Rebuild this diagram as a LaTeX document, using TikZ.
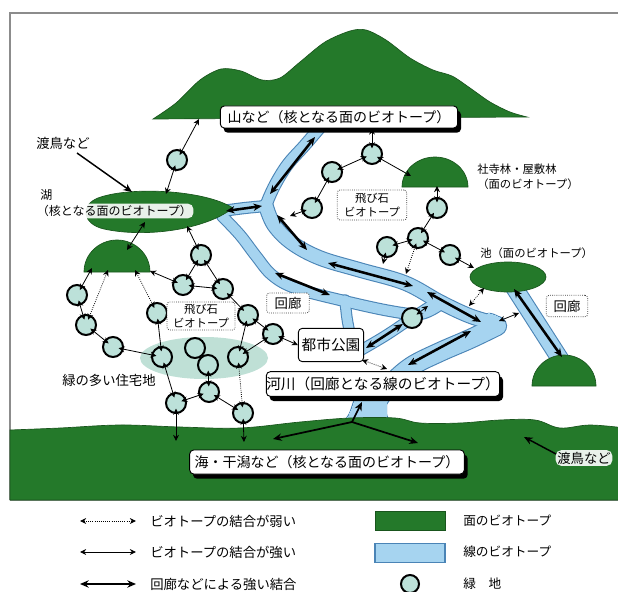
\documentclass[tikz,border=0pt]{standalone}
\usepackage{fontspec}
\setmainfont{Noto Sans CJK JP}
\usetikzlibrary{arrows.meta,calc,shadows}

\definecolor{coreGreen}{HTML}{24792A}
\definecolor{waterFill}{HTML}{A6D4F0}
\definecolor{waterEdge}{HTML}{4A84B6}
\definecolor{greenSpace}{HTML}{BCE1D9}
\definecolor{suburbFill}{HTML}{BFE0D6}
\definecolor{frameGrey}{HTML}{8C8C8C}

\newcommand{\setfs}[2]{\fontsize{#1pt}{#2pt}\selectfont}

\tikzset{
  gspace/.style={circle, draw=black, line width=1.5pt, fill=greenSpace, minimum size=15pt, inner sep=0pt},
  lnWeak/.style={densely dotted, line width=0.6pt, {Stealth[length=4.6pt,width=4.4pt]}-{Stealth[length=4.6pt,width=4.4pt]}},
  lnStrong/.style={line width=0.6pt, {Stealth[length=4.6pt,width=4.4pt]}-{Stealth[length=4.6pt,width=4.4pt]}},
  lnCorr/.style={line width=1.9pt, {Stealth[length=6.5pt,width=5.5pt]}-{Stealth[length=6.5pt,width=5.5pt]}},
  lnOne/.style={line width=1.3pt, -{Stealth[length=6.5pt,width=5.5pt]}},
  inS/.style={shorten <=-4pt},
  inE/.style={shorten >=-4pt},
  inB/.style={inS, inE},
  bigLabel/.style={draw=black, line width=0.7pt, fill=white, rounded corners=3pt, inner sep=0pt,
     general shadow={fill=black, shadow xshift=2.5pt, shadow yshift=-3.5pt}},
  stoneBox/.style={draw=black!75, densely dotted, line width=0.6pt, fill=white, rounded corners=2pt,
     align=center, inner sep=0pt},
  greenShape/.style={fill=coreGreen, draw=coreGreen!70!black, line width=0.5pt},
  note/.style={inner sep=0pt, anchor=west},
  onGreen/.style={fill=white, fill opacity=0.9, text opacity=1, rounded corners=4pt, inner sep=1.2pt},
}

\begin{document}
\begin{tikzpicture}[x=0.75pt, y=-0.75pt]
\useasboundingbox (0,0) rectangle (618,592);
\clip (0,0) rectangle (618,592);
\fill[white] (0,0) rectangle (618,592);

% frame
\draw[frameGrey, line width=0.9pt] (10,500) -- (10,13) -- (625,13);
\draw[frameGrey, line width=0.9pt] (10,500) -- (625,500);

% rivers and corridors: outline layer first, then the water layer
\foreach \extra/\col in {1.6/waterEdge, 0/waterFill} {
  \begin{scope}[draw=\col, line cap=round, line join=round]
    % channel from the mountain
    \draw[line width=8pt+\extra pt] plot[smooth, tension=0.6] coordinates
      {(323,124) (305,145) (288,164) (276,183) (268,200) (266,207)};
    % channel into the lake
    \draw[line width=7.5pt+\extra pt] plot[smooth, tension=0.6] coordinates
      {(222,211) (245,208) (266,206)};
    % main river, upper reach
    \draw[line width=10pt+\extra pt] plot[smooth, tension=0.6] coordinates
      {(266,206) (274,225) (292,243) (320,258) (360,270) (405,283) (440,302) (470,316) (497,324)};
    % main river, lower reach
    \draw[line width=13.5pt+\extra pt] plot[smooth, tension=0.6] coordinates
      {(497,326) (470,339) (440,352) (412,366) (392,383) (378,400) (370,418)};
    % corridor from the lake
    \draw[line width=7.5pt+\extra pt] plot[smooth, tension=0.6] coordinates
      {(222,216) (240,235) (256,256) (272,275) (295,288) (340,300) (390,311) (420,314) (438,306)};
    % branch to the park
    \draw[line width=7pt+\extra pt] plot[smooth, tension=0.6] coordinates
      {(345,300) (347,318) (350,334)};
    \draw[line width=7pt+\extra pt] plot[smooth, tension=0.6] coordinates
      {(356,353) (385,336) (412,318) (432,305)};
    % bend of the river
    \filldraw[fill=\col, line width=\extra pt] plot[smooth cycle, tension=0.7] coordinates
      {(486,315) (500,318) (505,326) (499,334) (486,335)};
    % mouth
    \filldraw[fill=\col, line width=\extra pt, rounded corners=2pt]
      (356,396) -- (386,396) -- (386,416) -- (398,434) -- (336,434) -- (350,414) -- cycle;
    % corridor between the pond and the wood
    \draw[line width=12pt+\extra pt] (512,284) -- (562,362);
  \end{scope}
}

% sea and tidal flats
\fill[greenShape] (10,500) -- (10,430) -- plot[smooth, tension=0.6] coordinates
  {(10,430) (60,428) (120,425) (180,427) (240,428) (300,422) (350,418) (395,418) (420,423)
   (460,423) (500,420) (535,420) (560,428) (590,425) (625,428)} -- (625,500) -- cycle;

% mountain
\fill[greenShape] plot[smooth, tension=0.5] coordinates
  {(153,119) (176,103) (200,80) (221,69) (241,71) (262,80) (280,78) (300,62) (325,42) (350,31)
   (366,30) (386,40) (410,58) (433,70) (452,76) (470,88) (490,102) (510,112) (527,117)} -- (153,119) -- cycle;

% lake
\fill[greenShape] (233,208) .. controls (205,190) and (130,186) .. (98,198)
  .. controls (80,205) and (82,224) .. (104,229)
  .. controls (145,238) and (205,230) .. (233,208) -- cycle;

% small woods, pond
\fill[greenShape] (84,272) arc[start angle=180, end angle=360, x radius=33, y radius=32] -- cycle;
\fill[greenShape] (402,187) arc[start angle=180, end angle=360, x radius=33, y radius=30] -- cycle;
\fill[greenShape] (532,386) arc[start angle=180, end angle=360, x radius=32, y radius=31] -- cycle;
\fill[greenShape] (508,277) ellipse[x radius=38, y radius=15];

% residential area with much green
\fill[suburbFill] (204,358) ellipse[x radius=64, y radius=21];

% green spaces
\node[gspace] (c1) at (177,160) {};
\node[gspace] (c2) at (201,255) {};
\node[gspace] (c3) at (183,285) {};
\node[gspace] (c4) at (223,289) {};
\node[gspace] (c5) at (248,315) {};
\node[gspace] (c6) at (273,334) {};
\node[gspace] (c7) at (157,313) {};
\node[gspace] (c8) at (77,295) {};
\node[gspace] (c9) at (86,325) {};
\node[gspace] (c10) at (113,347) {};
\node[gspace] (c11) at (162,357) {};
\node[gspace] (c12) at (195,348) {};
\node[gspace] (c13) at (208,365) {};
\node[gspace] (c14) at (238,357) {};
\node[gspace] (c15) at (176,403) {};
\node[gspace] (c16) at (209,392) {};
\node[gspace] (c17) at (243,413) {};
\node[gspace] (u1) at (372,154) {};
\node[gspace] (u2) at (332,172) {};
\node[gspace] (u3) at (312,208) {};
\node[gspace] (u4) at (437,208) {};
\node[gspace] (u5) at (418,238) {};
\node[gspace] (u6) at (387,247) {};
\node[gspace] (u7) at (450,255) {};
\node[gspace] (s1) at (412,318) {};

% labelled boxes
\node[bigLabel, minimum width=178pt, minimum height=16.5pt, font=\setfs{10.5}{12}] (mtLabel) at (339,117)
  {山など（核となる面のビオトープ）};
\node[bigLabel, minimum width=206pt, minimum height=18pt, font=\setfs{10.5}{12}] (seaLabel) at (327,462)
  {海・干潟など（核となる面のビオトープ）};
\node[bigLabel, minimum width=172pt, minimum height=18.5pt, font=\setfs{11}{13}] (riverLabel) at (383,384)
  {河川（回廊となる線のビオトープ）};
\node[draw=black, line width=0.7pt, fill=white, rounded corners=3pt, minimum width=49pt, minimum height=25pt,
  inner sep=0pt, font=\setfs{11}{13}] (park) at (331,345) {都市公園};
\node[stoneBox, minimum width=52pt, minimum height=22.5pt, font=\setfs{8.5}{10.5}] (stoneUp) at (372,205)
  {飛び石\\ビオトープ};
\node[stoneBox, minimum width=51pt, minimum height=21pt, font=\setfs{8.5}{10.5}] (stoneLow) at (201,316)
  {飛び石\\ビオトープ};
\node[stoneBox, minimum width=32pt, minimum height=15pt, font=\setfs{10}{12}] (corrMid) at (288,303) {回廊};
\node[stoneBox, minimum width=31pt, minimum height=16pt, font=\setfs{10}{12}] (corrRight) at (567,306) {回廊};

% notes
\node[note, font=\setfs{10}{12}] (wbNote) at (36,143) {渡鳥など};
\node[note, font=\setfs{9}{11}] (lakeName) at (40,195) {湖};
\node[note, onGreen, font=\setfs{9}{11}] (lakeSub) at (35,211) {（核となる面のビオトープ）};
\node[note, font=\setfs{8.5}{11}, align=left] (shrineNote) at (477,177) {社寺林・屋敷林\\（面のビオトープ）};
\node[note, font=\setfs{8.5}{11}] (pondNote) at (480,253) {池（面のビオトープ）};
\node[note, font=\setfs{10}{12}] (suburbNote) at (62,380) {緑の多い住宅地};
\node[onGreen, font=\setfs{10}{12}] (wbNoteSea) at (584,458) {渡鳥など};

% points on areas and channels
\coordinate (mtA) at (199,119);
\coordinate (lakeN) at (166,194);
\coordinate (lakeSW) at (145,222);
\coordinate (lakeS) at (187,226);
\coordinate (hillTop) at (127,250);
\coordinate (hillL1) at (92,268);
\coordinate (hillL2) at (108,270);
\coordinate (hillL3) at (135,270);
\coordinate (hillL4) at (150,271);
\coordinate (shrW) at (411,176);
\coordinate (shrS) at (437,186);
\coordinate (pondW) at (474,268);
\coordinate (pondSW) at (484,288);
\coordinate (rvA) at (290,216);
\coordinate (rvB) at (383,264);
\coordinate (rvC) at (406,274);
\coordinate (rvD) at (428,306);
\coordinate (rvE) at (469,306);
\coordinate (rvF) at (499,321);
\coordinate (corW) at (519,313);
\coordinate (rvG) at (387,369);
\coordinate (parkSE) at (362,360);
\coordinate (sea1) at (176,441);
\coordinate (sea2) at (244,442);
\coordinate (seaHub) at (352,422);
\coordinate (seaUp) at (362,402);
\coordinate (seaLeft) at (273,439);
\coordinate (seaRight) at (418,443);
\coordinate (wbTail) at (77,153);
\coordinate (wbHead) at (132,192);
\coordinate (wbTail2) at (556,454);
\coordinate (wbHead2) at (524,437);

% flows along the rivers and corridors
\coordinate (a1s) at (315,137); \coordinate (a1e) at (270,194);
\coordinate (a2s) at (226,211); \coordinate (a2e) at (262,206);
\coordinate (a3s) at (277,215); \coordinate (a3e) at (307,250);
\coordinate (a4s) at (328,263); \coordinate (a4e) at (413,286);
\coordinate (a5s) at (427,292); \coordinate (a5e) at (481,322);
\coordinate (a6s) at (471,331); \coordinate (a6e) at (408,365);
\coordinate (a7s) at (275,273); \coordinate (a7e) at (330,295);
\coordinate (a8s) at (366,348);
\coordinate (cr1) at (514,289); \coordinate (cr2) at (562,357);
\foreach \p in {1,...,7} \draw[lnCorr] (a\p s) -- (a\p e);
\draw[lnCorr] (a8s) -- (s1);
\draw[lnCorr] (cr1) -- (cr2);

% links between habitats
\draw[lnStrong, inE] (mtA) -- (c1);
\draw[lnStrong, inS] (c1) -- (lakeN);
\draw[lnStrong] (lakeSW) -- (hillTop);
\draw[lnStrong, inE] (lakeS) -- (c2);
\draw[lnStrong, inB] (c2) -- (c3);
\draw[lnStrong, inB] (c2) -- (c4);
\draw[lnStrong, inB] (c3) -- (c4);
\draw[lnStrong, inB] (c4) -- (c5);
\draw[lnStrong, inB] (c5) -- (c6);
\draw[lnStrong, inB] (c5) -- (c14);
\draw[lnStrong, inB] (c6) -- (c14);
\draw[lnStrong, inS] (c6) -- (park.west);
\draw[lnStrong, inE] (hillL1) -- (c8);
\draw[lnWeak, inE] (hillL2) -- (c9);
\draw[lnWeak, inE] (hillL3) -- (c7);
\draw[lnStrong, inE] (hillL4) -- (c3);
\draw[lnStrong, inB] (c8) -- (c9);
\draw[lnStrong, inB] (c9) -- (c10);
\draw[lnStrong, inB] (c10) -- (c11);
\draw[lnStrong, inB] (c7) -- (c11);
\draw[lnStrong, inB] (c11) -- (c15);
\draw[lnStrong, inB] (c15) -- (c16);
\draw[lnStrong, inB] (c16) -- (c13);
\draw[lnStrong, inB] (c16) -- (c17);
\draw[lnWeak, inB] (c14) -- (c17);
\draw[lnStrong, inS] (c15) -- (sea1);
\draw[lnStrong, inS] (c17) -- (sea2);
\draw[lnStrong, inS] (u1) -- (u1 |- mtLabel.south);
\draw[lnStrong, inB] (u1) -- (u2);
\draw[lnStrong, inS] (u1) -- (shrW);
\draw[lnStrong, inB] (u2) -- (u3);
\draw[lnStrong, inS] (u3) -- (rvA);
\draw[lnStrong, inE] (shrS) -- (u4);
\draw[lnStrong, inB] (u4) -- (u5);
\draw[lnStrong, inB] (u5) -- (u6);
\draw[lnStrong, inB] (u5) -- (u7);
\draw[lnStrong, inS] (u6) -- (rvB);
\draw[lnWeak, inS] (u5) -- (rvC);
\draw[lnStrong, inS] (u7) -- (pondW);
\draw[lnWeak] (pondSW) -- (rvE);
\draw[lnStrong, inS] (s1) -- (rvD);
\draw[lnStrong] (rvF) -- (corW);
\draw[lnWeak] (parkSE) -- (rvG);

% migrating birds, sea outflow
\draw[lnOne, line width=1.1pt] (wbTail) -- (wbHead);
\draw[lnOne, line width=1.1pt] (wbTail2) -- (wbHead2);
\draw[lnOne] (seaHub) -- (seaUp);
\draw[lnOne] (seaHub) -- (seaLeft);
\draw[lnOne] (seaHub) -- (seaRight);

% legend
\coordinate (lg1a) at (80,521); \coordinate (lg1b) at (136,521);
\coordinate (lg2a) at (80,552); \coordinate (lg2b) at (136,552);
\coordinate (lg3a) at (80,584); \coordinate (lg3b) at (136,584);
\draw[lnWeak] (lg1a) -- (lg1b);
\draw[lnStrong] (lg2a) -- (lg2b);
\draw[lnCorr] (lg3a) -- (lg3b);
\node[note, font=\setfs{10}{12}] (lgT1) at (150,521) {ビオトープの結合が弱い};
\node[note, font=\setfs{10}{12}] (lgT2) at (150,552) {ビオトープの結合が強い};
\node[note, font=\setfs{10}{12}] (lgT3) at (150,584) {回廊などによる強い結合};
\node[fill=coreGreen, draw=coreGreen!70!black, line width=0.5pt, minimum width=52.5pt, minimum height=14pt,
  inner sep=0pt] (lgCore) at (410,521) {};
\node[fill=waterFill, draw=waterEdge, line width=0.8pt, minimum width=52.5pt, minimum height=14pt,
  inner sep=0pt] (lgLine) at (410,553) {};
\node[gspace, minimum size=13.5pt] (lgGreen) at (410,584) {};
\node[note, font=\setfs{9.5}{12}] (lgT4) at (463,521) {面のビオトープ};
\node[note, font=\setfs{9.5}{12}] (lgT5) at (463,552) {線のビオトープ};
\node[note, font=\setfs{9.5}{12}] (lgT6) at (463,584) {緑　地};
\end{tikzpicture}
\end{document}
